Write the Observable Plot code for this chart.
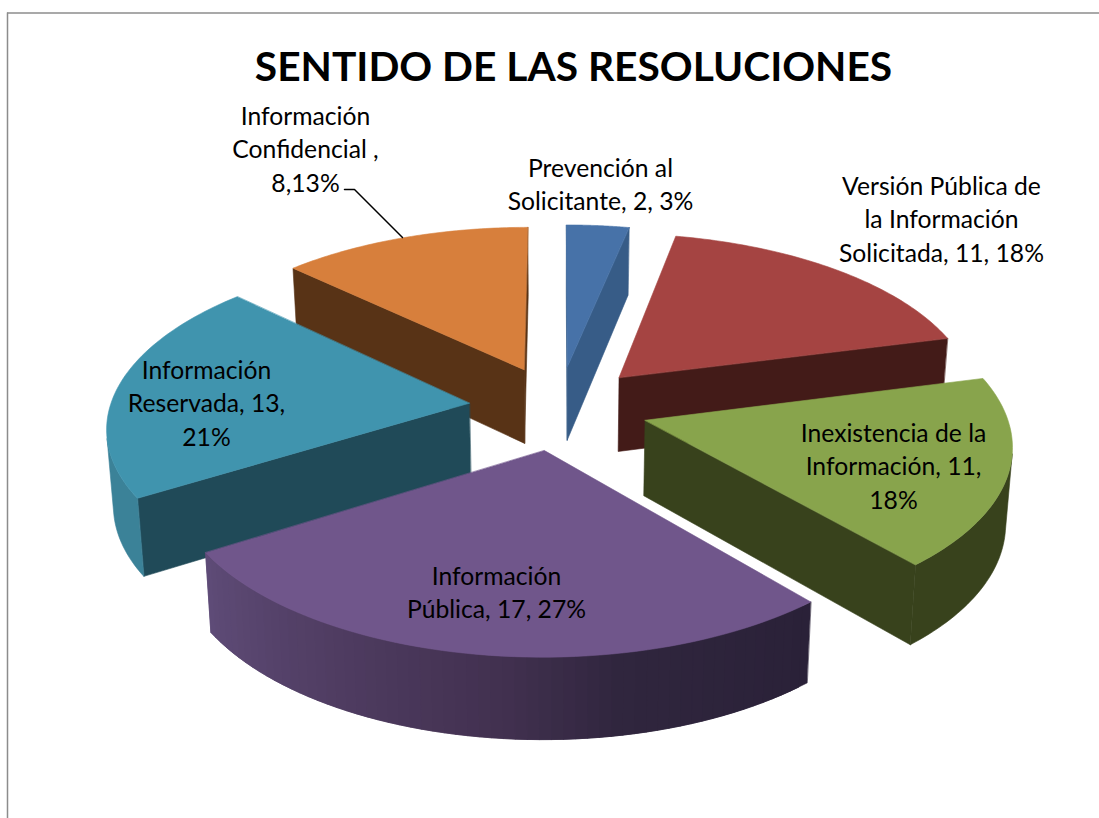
<!DOCTYPE html>
<html lang="es">
<head>
<meta charset="utf-8">
<title>Sentido de las resoluciones</title>
<style>
html,body{margin:0;padding:0;background:#fff}
svg{display:block}
</style>
<script src="https://cdn.jsdelivr.net/npm/d3@7"></script>
<script src="https://cdn.jsdelivr.net/npm/@observablehq/plot@0.6"></script>
</head>
<body>
<div id="chart"></div>
<script>
// ---- data ----
const titleText = "SENTIDO DE LAS RESOLUCIONES";
const categories = ["Prevención al Solicitante","Versión Pública de la Información Solicitada","Inexistencia de la Información","Información Pública","Información Reservada","Información Confidencial"];
const counts = [2, 11, 11, 17, 13, 8];
const labelTexts = [
  "Prevención al\nSolicitante, 2, 3%",
  "Versión Pública de\nla Información\nSolicitada, 11, 18%",
  "Inexistencia de la\nInformación, 11,\n18%",
  "Información\nPública, 17, 27%",
  "Información\nReservada, 13,\n21%",
  "Información\nConfidencial ,\n8,13%"
];
// ---- styling and layout, per slice ----
const topColors = ["#4772a8","#a54442","#88a44c","#70568b","#4094ae","#d77f3c"];
const cutColors = ["#375c87","#431b18","#38421c","#2a2138","#204a58","#583316"];
const rimColors = ["#375c87","#431b18","#38421c","#5f4b78","#3b8298","#583316"];
const labelX = [600, 941, 893, 496, 206, 305];
const labelY = [182, 217, 464, 590, 401, 147];
const paintOrder = [0, 5, 1, 4, 2, 3];
const purpleStops = ["#2a2138","#30263e","#41304f","#4f3c61","#5f4c78"];
// ---- 3D pie geometry: plane (X,Y) seen in perspective ----
const cx = 558, cy = 407, R = 359.5, r = 169, p = 0.125, explode = 0.25;
const project = (X, Y, bottom) => {
  const w = 1 - p * Y;
  let x = cx + R * X / w, y = cy + r * Y / w;
  if (bottom) { x = cx + (x - cx) * 0.985; y += 75 + 6 * Y; }
  return [x, y];
};
const total = d3.sum(counts);
const polygons = [];
let polyId = 0;
const addPoly = (pts, color) => {
  const id = polyId++;
  pts.forEach(([x, y]) => polygons.push({x, y, id, color}));
};
let acc = 0;
const slices = counts.map((c, i) => {
  const a0 = acc / total * 2 * Math.PI; acc += c;
  return {i, a0, a1: acc / total * 2 * Math.PI};
});
const purpleScale = d3.scaleLinear().domain([0, .3, .45, .7, 1]).range(purpleStops);
for (const k of paintOrder) {
  const {i, a0, a1} = slices[k];
  const mid = (a0 + a1) / 2;
  const ox = explode * Math.sin(mid), oy = -explode * Math.cos(mid);
  const steps = 60;
  const angles = d3.range(steps + 1).map(s => a0 + (a1 - a0) * s / steps);
  const pt = (a, bottom) => project(ox + Math.sin(a), oy - Math.cos(a), bottom);
  const tip = b => project(ox, oy, b);
  // d3.polygonArea is positive for walls that face the viewer, walking the slice's outline
  const faces = (f, g) => d3.polygonArea([f(false), g(false), g(true), f(true)]) > 0;
  const quad = (f, g, color) => {
    if (faces(f, g)) addPoly([f(false), g(false), g(true), f(true)], color);
  };
  quad(b => tip(b), b => pt(a0, b), cutColors[i]);
  quad(b => pt(a1, b), b => tip(b), cutColors[i]);
  const visible = d3.range(steps).filter(s => faces(b => pt(angles[s], b), b => pt(angles[s + 1], b)));
  if (visible.length && i === 3) {
    // shaded rim: each strip overlaps the next, so no seams show
    for (const s of visible) {
      const end = Math.min(s + 2, steps);
      addPoly([pt(angles[s], false), pt(angles[end], false), pt(angles[end], true), pt(angles[s], true)], purpleScale(s / steps));
    }
  } else if (visible.length) {
    const arc = d3.range(visible[0], visible[visible.length - 1] + 2).map(s => angles[s]);
    addPoly([...arc.map(a => pt(a, false)), ...arc.slice().reverse().map(a => pt(a, true))], rimColors[i]);
  }
  addPoly([tip(false), ...angles.map(a => pt(a, false))], topColors[i]);
}
const labels = labelTexts.map((text, i) => ({text, x: labelX[i], y: labelY[i]}));
const leader = [[344,189],[354,189],[402,237]].map(([x,y]) => ({x,y}));

const plot = Plot.plot({
  width: 1099, height: 818,
  margin: 0,
  x: {domain: [0, 1099], range: [0, 1099], axis: null},
  y: {domain: [0, 818], range: [0, 818], axis: null},
  color: {type: "identity"},
  style: {background: "#fff", fontFamily: "Lato, sans-serif"},
  marks: [
    Plot.ruleX([7], {y1: 12.5, y2: 818, stroke: "#8c8c8c", strokeWidth: 1.5}),
    Plot.ruleY([12.5], {x1: 7, x2: 1099, stroke: "#8c8c8c", strokeWidth: 1.5}),
    Plot.line(polygons, {x: "x", y: "y", z: "id", fill: "color", stroke: "color", strokeWidth: 0.6, curve: "linear-closed"}),
    Plot.line(leader, {x: "x", y: "y", stroke: "#000", strokeWidth: 1.5}),
    Plot.text(labels, {x: "x", y: "y", text: "text", fontSize: 24.7, lineHeight: 1.35, fill: "#000", lineAnchor: "middle"}),
    Plot.text([titleText], {x: () => 573, y: () => 67, fontSize: 40.7, fontWeight: "bold", fill: "#000", lineAnchor: "middle"})
  ]
});
document.getElementById("chart").append(plot);
</script>
</body>
</html>
